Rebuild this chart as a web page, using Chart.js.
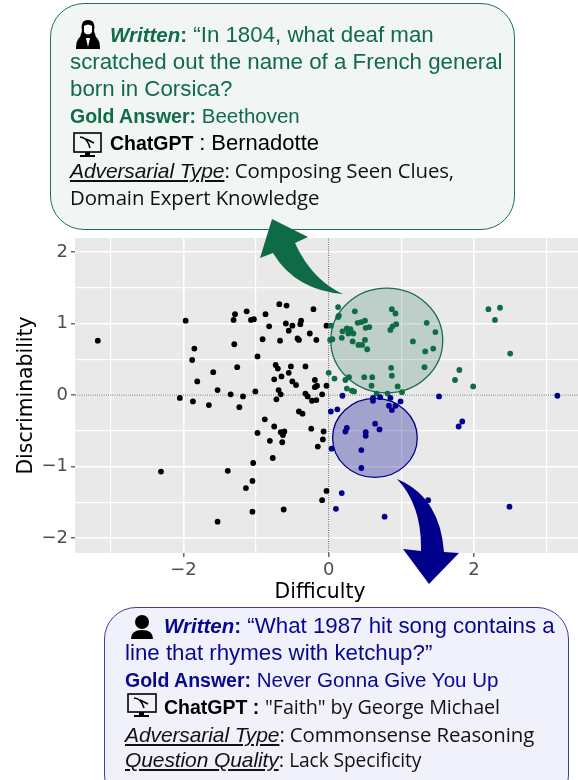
<!DOCTYPE html>
<html>
<head>
<meta charset="utf-8">
<title>Difficulty vs Discriminability</title>
<script src="https://cdn.jsdelivr.net/npm/chart.js@4"></script>
<style>
  html, body { margin: 0; padding: 0; background: #fff; overflow: hidden; }
  #page { position: relative; width: 578px; height: 780px; overflow: hidden; }
  /* 4px a mais: o Chart.js reserva a sobra dos pontos na direita */
  #grafico { position: absolute; left: 0; top: 0; width: 582px; height: 780px; }
  .caixa { position: absolute; box-sizing: border-box; }
  #caixaVerde { left: 50px; top: 3px; width: 465px; height: 227px; border-radius: 34px; background: #f1f5f4; border: 1.3px solid #1f7350; }
  #caixaAzul { left: 104px; top: 607px; width: 465px; height: 200px; border-radius: 32px; background: #f0f1fa; border: 1.3px solid #3c3ca6; }
  #setas { position: absolute; left: 0; top: 0; }
  .linha { position: absolute; white-space: nowrap; line-height: 24px; height: 24px; }
  .arial { font-family: "Liberation Sans", sans-serif; font-size: 22.3px; }
  .arial b { font-size: 20.5px; }
  .corpo { font-family: "Open Sans", sans-serif; font-size: 20.4px; color: #111; letter-spacing: -0.1px; }
  .verde { color: #116b46; }
  .azul { color: #07078f; }
  .preto { color: #000; }
  .gold { font-family: "Liberation Sans", sans-serif; font-size: 20.5px; }
  .gold b { font-size: 19.5px; }
  .extra { font-size: 22px; }
  i.sub { font-family: "Liberation Sans", sans-serif; font-size: 21px; text-decoration: underline; }
</style>
</head>
<body>
<div id="page">
  <canvas id="grafico" width="582" height="780"></canvas>

  <div class="caixa" id="caixaVerde"></div>
  <div class="caixa" id="caixaAzul"></div>

  <svg id="setas" width="578" height="780">
    <path d="M260,258 L272,219 L308,237 L295,243 Q312,280 343,294 Q295,290 273,253 Z" fill="#0f6b45"/>
    <path d="M397,479 Q440,497 444,552 L459,553 L429,584 L403,549 L421,551 Q422,505 397,479 Z" fill="#00008b"/>

    <!-- icones -->
    <g fill="#000">
      <path d="M82,31 Q80,20 88,20 Q96,20 94,31 L96,37 Q100,40 100,49 L76,49 Q76,40 80,37 Z"/>
      <circle cx="142" cy="622" r="7"/>
      <path d="M131,639 Q131,630 142,630 Q153,630 153,639 Z"/>
    </g>
    <path d="M84,26 Q88,23 92,26 L92,32 Q88,37 84,32 Z" fill="#fff"/>
    <path d="M86,38 L90,38 L88,47 Z" fill="#fff"/>
    <g fill="none" stroke="#000" stroke-width="1.6">
      <rect x="74" y="133" width="27" height="19"/>
      <path d="M80,137 Q87,137 90,148 M86,139 L94,143"/>
      <rect x="128" y="694" width="28" height="18"/>
      <path d="M134,698 Q141,698 144,708 M140,700 L148,704"/>
    </g>
    <g fill="#000">
      <rect x="85" y="152" width="5" height="3"/>
      <rect x="80" y="155" width="15" height="2"/>
      <rect x="139" y="712" width="5" height="3"/>
      <rect x="134" y="715" width="15" height="2"/>
    </g>
  </svg>

  <!-- caixa verde -->
  <div class="linha arial verde" style="left:110px;top:23px"><b><i>Written</i>:</b> “In 1804, what deaf man</div>
  <div class="linha arial verde" style="left:70px;top:50px">scratched out the name of a French general</div>
  <div class="linha arial verde" style="left:70px;top:77px">born in Corsica?</div>
  <div class="linha gold verde" style="left:70px;top:104px"><b>Gold Answer:</b> Beethoven</div>
  <div class="linha gold preto" style="left:110px;top:131px"><b>ChatGPT</b> <span class="extra">: Bernadotte</span></div>
  <div class="linha corpo" style="left:70px;top:158px"><i class="sub">Adversarial Type</i>: Composing Seen Clues,</div>
  <div class="linha corpo" style="left:70px;top:185px">Domain Expert Knowledge</div>

  <!-- caixa azul -->
  <div class="linha arial azul" style="left:164px;top:614px"><b><i>Written</i>:</b> “What 1987 hit song contains a</div>
  <div class="linha arial azul" style="left:125px;top:641px">line that rhymes with ketchup?”</div>
  <div class="linha gold azul" style="left:125px;top:668px"><b>Gold Answer:</b> Never Gonna Give You Up</div>
  <div class="linha gold preto" style="left:164px;top:695px"><b>ChatGPT :</b> <span class="corpo" style="font-size:19.8px">"Faith" by George Michael</span></div>
  <div class="linha corpo" style="left:125px;top:722px"><i class="sub">Adversarial Type</i>: Commonsense Reasoning</div>
  <div class="linha corpo" style="left:125px;top:747px"><i class="sub">Question Quality</i>: <span style="font-size:19.2px">Lack Specificity</span></div>
</div>

<script>
/* --- DADOS --- */
const pretoX = [-3.18,-1.97,-1.85,-1.88,-1.81,-1.59,-1.53,-2.05,-1.87,-1.65,-1.35,-1.18,-1.01,-1.31,-1.29,-1.13,-1.07,-1.03,-.87,-.82,-.68,-.58,-.59,-.50,-.39,-.38,-.55,-.21,-.26,-.43,-.41,-.17,-.67,-.91,-1.30,-.98,-1.26,-.73,-.70,-.52,-.32,-.55,-.65,-.75,-.50,-.45,-.19,-.16,-.19,-.03,-.03,-.69,-.66,-.72,-.32,-.29,-.23,-.17,-.09,-1.23,-.88,-.75,-.41,-.36,-.24,-.07,-.98,-.66,-.61,-.63,-.81,-.64,-.08,-.15,-.77,-1.04,-2.31,-1.39,-1.05,-1.14,-.03,-.09,-1.05,-.62,-1.53];
const pretoY = [.76,1.04,.65,.49,.19,.32,.07,-.04,-.09,-.14,.01,-.02,.05,1.05,1.13,1.17,1.05,1.06,1.13,.96,1.27,1.25,1.0,.97,.99,1.04,.90,1.20,.86,.79,.77,.77,.76,.78,.71,.54,.39,.42,.37,.40,.40,.31,.26,.22,.19,.14,.21,.13,.11,.13,.97,.07,.01,-.06,.02,-.02,-.08,-.07,.01,-.17,-.34,-.44,-.23,-.26,-.47,-.51,-.53,-.52,-.51,-.56,-.64,-.66,-.62,-.72,-.88,-.95,-1.07,-1.06,-1.20,-1.30,-1.34,-1.47,-1.63,-1.60,-1.77];

const verdeX = [.13,.14,.13,.03,.36,.50,.45,.40,.25,.30,.19,.27,.34,.51,.56,.18,.05,.02,.33,.50,.41,.46,.53,.87,.92,.93,.88,.85,1.35,1.47,1.16,1.33,1.44,.86,1.32,.87,1.80,1.74,1.99,2.20,2.36,2.29,2.50,0,.08,.23,.28,.49,.60,.59,.25,.32,.35,.95,.66,.81,1.01];
const verdeY = [1.23,1.11,1.09,.97,1.17,1.04,1.02,1.01,.93,.92,.89,.86,.86,.94,.95,.80,.78,.77,.75,.77,.70,.70,.64,1.20,1.14,.99,.96,.91,1.01,.88,.75,.61,.65,.38,.39,.27,.35,.21,.12,1.20,1.22,1.05,.58,.31,.23,.21,.25,.25,.25,.13,.09,.06,.05,.12,.02,.02,.04];

const azulX = [.19,.61,.61,.71,.85,.83,.92,.87,.99,1.52,3.15,.03,.12,.25,.23,.51,.51,.64,.70,.45,.04,.45,.18,.10,.77,1.37,2.49,1.79,1.84];
const azulY = [-.01,-.04,-.08,-.03,-.04,-.15,-.15,-.21,-.09,-.02,-.01,-.23,-.20,-.46,-.51,-.52,-.57,-.40,-.48,-.77,-.75,-1.02,-1.37,-1.59,-1.70,-1.47,-1.56,-.44,-.37];

const limitesX = [-3.494, 3.434];
const limitesY = [-2.208, 2.195];
const ticksX = [-2, 0, 2];
const ticksY = [-2, -1, 0, 1, 2];

/* elipses de destaque: centro e raios em unidades dos eixos */
const elipseVerde = { cx: 0.80, cy: 0.763, rx: 0.771, ry: 0.731, fill: 'rgba(15,107,69,0.2)', stroke: '#1a6e4b' };
const elipseAzul  = { cx: 0.637, cy: -0.599, rx: 0.583, ry: 0.553, fill: 'rgba(0,0,139,0.3)', stroke: '#00008b' };

/* --- HELPERS --- */
function pontos(xs, ys) {
  return xs.map((x, i) => ({ x, y: ys[i] }));
}

function rotuloTick(lista) {
  return value => lista.includes(value) ? String(value).replace('-', '\u2212') : '';
}

function eixo(lista, passo, limites, titulo, ajuste) {
  return {
    type: 'linear',
    min: limites[0],
    max: limites[1],
    border: { display: false },
    grid: {
      color: '#fff',
      lineWidth: c => lista.includes(c.tick.value) ? 1.6 : 1.2,
      tickColor: c => lista.includes(c.tick.value) ? '#444' : 'rgba(0,0,0,0)',
      tickLength: 4,
      tickWidth: 1.2,
    },
    ticks: {
      stepSize: passo,
      includeBounds: false,
      autoSkip: false,
      maxRotation: 0,
      color: '#4d4d4d',
      padding: 3,
      font: { family: '"DejaVu Sans"', size: 18 },
      callback: rotuloTick(lista),
    },
    title: {
      display: true,
      text: titulo,
      color: '#000',
      padding: 0,
      font: { family: '"DejaVu Sans"', size: 20.4 },
    },
    afterFit: ajuste,
  };
}

/* fundo cinza + elipses, desenhados atras dos pontos */
const fundoPlugin = {
  id: 'fundo',
  beforeDraw(chart) {
    const { ctx, chartArea: a } = chart;
    ctx.save();
    ctx.fillStyle = '#e9e9e9';
    ctx.fillRect(a.left, a.top, a.right - a.left, a.bottom - a.top);
    ctx.restore();
  },
  beforeDatasetsDraw(chart) {
    const { ctx, scales } = chart;
    [elipseVerde, elipseAzul].forEach(e => {
      const cx = scales.x.getPixelForValue(e.cx);
      const cy = scales.y.getPixelForValue(e.cy);
      const rx = scales.x.getPixelForValue(e.cx + e.rx) - cx;
      const ry = cy - scales.y.getPixelForValue(e.cy + e.ry);
      ctx.save();
      ctx.beginPath();
      ctx.ellipse(cx, cy, rx, ry, 0, 0, Math.PI * 2);
      ctx.fillStyle = e.fill;
      ctx.fill();
      ctx.lineWidth = 1.3;
      ctx.strokeStyle = e.stroke;
      ctx.stroke();
      ctx.restore();
    });
  },
};

function grupo(xs, ys, cor, ordem) {
  return {
    data: pontos(xs, ys),
    backgroundColor: cor,
    borderWidth: 0,
    pointRadius: 2.9,
    order: ordem,
  };
}

function linhaZero(data) {
  return {
    data,
    showLine: true,
    borderColor: '#555',
    borderWidth: 1.1,
    borderDash: [1, 1.2],
    pointRadius: 0,
    order: 9,
  };
}

new Chart(document.getElementById('grafico'), {
  type: 'scatter',
  data: {
    datasets: [
      grupo(azulX, azulY, '#00008b', 1),
      grupo(verdeX, verdeY, '#0f6b45', 2),
      grupo(pretoX, pretoY, '#000', 3),
      linhaZero(limitesX.map(x => ({ x, y: 0 }))),
      linhaZero(limitesY.map(y => ({ x: 0, y }))),
    ],
  },
  options: {
    responsive: false,
    animation: false,
    events: [],
    layout: { padding: { top: 238, bottom: 175, left: 14, right: 0 } },
    plugins: { legend: { display: false }, tooltip: { enabled: false } },
    scales: {
      /* espacos no fim: na figura o titulo fica um pouco a esquerda do centro */
      x: eixo(ticksX, 1, limitesX, 'Difficulty  ', scale => { scale.height = 52; }),
      y: eixo(ticksY, 0.5, limitesY, 'Discriminability', scale => { scale.width = 61; }),
    },
  },
  plugins: [fundoPlugin],
});
</script>
</body>
</html>
